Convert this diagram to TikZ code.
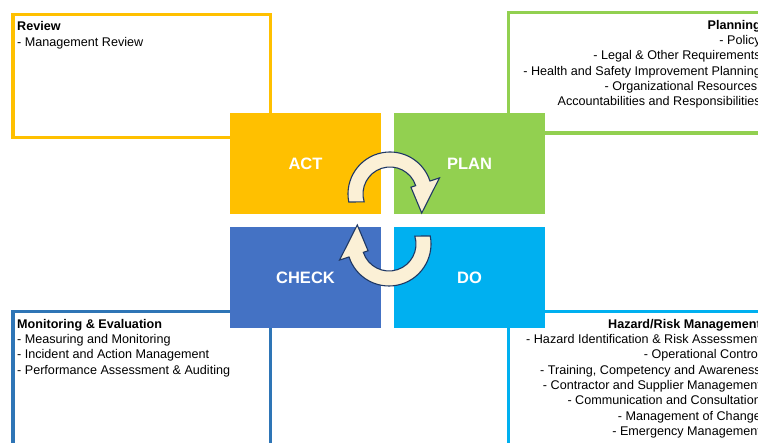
\documentclass[tikz,border=0pt]{standalone}
\usepackage{fontspec}
\setmainfont{Liberation Sans}
\definecolor{cyel}{HTML}{FFC000}
\definecolor{cgrn}{HTML}{92D050}
\definecolor{cblu}{HTML}{4472C4}
\definecolor{ccya}{HTML}{00B0F0}
\definecolor{cbord}{HTML}{2E75B6}
\definecolor{ccream}{HTML}{FBF0D6}
\definecolor{cnavy}{HTML}{1F3864}
\tikzset{
  frame/.style={line width=3.6pt},
  quad/.style={minimum width=151pt, minimum height=101pt, inner sep=0pt, text=white,
    font=\fontsize{16.5}{18}\selectfont\bfseries},
  txt/.style={inner sep=0pt, font=\fontsize{12.6}{15.3}\selectfont},
  cyc/.style={fill=ccream, draw=cnavy, line width=1.1pt, line join=miter},
}
\begin{document}
\begin{tikzpicture}[x=1pt,y=1pt]
\useasboundingbox (0,0) rectangle (758,443);
\clip (0,0) rectangle (758,443);
\fill[white] (0,0) rectangle (758,443);
% outer frames
\draw[frame, cyel] (12.8,428.5) rectangle (270.5,305.5);
\draw[frame, cgrn] (508.5,430.5) rectangle (800,310);
\draw[frame, cbord] (12.8,131.5) rectangle (270.5,-60);
\draw[frame, ccya] (508.5,131.5) rectangle (800,-60);
% quadrants
\node[quad, fill=cyel] (act) at (305.5,279.5) {ACT};
\node[quad, fill=cgrn] (plan) at (469.5,279.5) {PLAN};
\node[quad, fill=cblu] (check) at (305.5,165.5) {CHECK};
\node[quad, fill=ccya] (do) at (469.5,165.5) {DO};
% cycle arrows
\foreach \cx/\cy/\rot in {390/249/0, 389/199/180}{
  \begin{scope}[shift={(\cx,\cy)}, rotate=\rot]
    \draw[cyc] (191:42) arc[start angle=191, end angle=18, radius=42]
      -- (18:52) -- (-31:37) -- (18:22) -- (18:27)
      arc[start angle=18, end angle=197, radius=27] -- cycle;
  \end{scope}
}
% texts
\node[txt, anchor=north west, align=left] (review) at (17,421.5)
  {\textbf{Review}\\- Management Review};
\node[txt, anchor=north east, align=right] (planning) at (761,423)
  {\textbf{Planning}\\- Policy\\- Legal \& Other Requirements\\- Health and Safety Improvement Planning\\- Organizational Resources,\\Accountabilities and Responsibilities};
\node[txt, anchor=north west, align=left] (monitor) at (17,124)
  {\textbf{Monitoring \& Evaluation}\\- Measuring and Monitoring\\- Incident and Action Management\\- Performance Assessment \& Auditing};
\node[txt, anchor=north east, align=right] (hazard) at (761,124)
  {\textbf{Hazard/Risk Management}\\- Hazard Identification \& Risk Assessment\\- Operational Control\\- Training, Competency and Awareness\\- Contractor and Supplier Management\\- Communication and Consultation\\- Management of Change\\- Emergency Management};
\end{tikzpicture}
\end{document}
